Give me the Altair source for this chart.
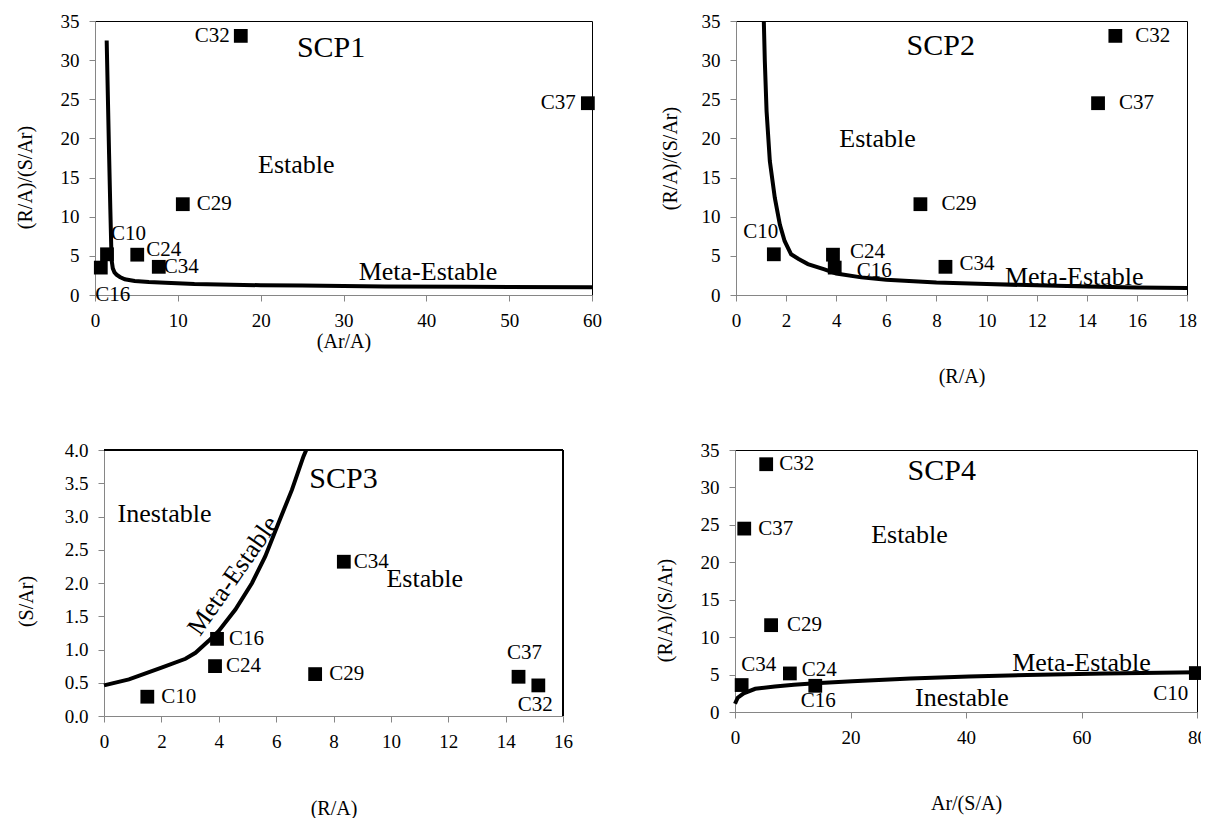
import altair as alt
import pandas as pd

FONT = "Liberation Serif"

# ---------------- data ----------------
samples = ["C10", "C16", "C24", "C29", "C32", "C34", "C37"]
ratio = [5.2, 3.5, 5.15, 11.6, 33.1, 3.6, 24.5]      # (R/A)/(S/Ar)
ar_a = [1.45, 0.7, 5.1, 10.6, 17.6, 7.7, 59.5]        # (Ar/A)
r_a = [1.51, 3.94, 3.87, 7.36, 15.14, 8.36, 14.45]    # (R/A)
s_ar = [0.29, 1.16, 0.75, 0.63, 0.46, 2.32, 0.59]     # (S/Ar)
ar_sa = [79.8, 13.9, 9.5, 6.25, 5.4, 1.15, 1.6]       # Ar/(S/A)

# boundary curves (Meta-Estable lines)
c1_x = [1.41, 1.55, 1.7, 1.85, 2.0, 2.15, 2.35, 2.6, 3.0, 3.6, 4.8, 6.5, 8.5, 12, 20, 25, 35, 45, 60]
c1_y = [32.5, 25.5, 18.0, 11.0, 4.5, 3.4, 2.9, 2.6, 2.3, 2.0, 1.8, 1.65, 1.55, 1.4, 1.25, 1.2, 1.1, 1.05, 1.0]
c2_x = [1.11, 1.15, 1.22, 1.35, 1.55, 1.75, 1.94, 2.2, 2.5, 2.87, 3.5, 4.0, 5.0, 6.0, 8.0, 10.0, 12.0, 14.0, 16.0, 18.0]
c2_y = [35, 29.9, 23.5, 17.1, 12.4, 9.0, 6.9, 5.2, 4.6, 3.95, 3.3, 2.75, 2.25, 1.95, 1.6, 1.4, 1.23, 1.1, 0.97, 0.9]
c3_x = [0, 0.87, 2.03, 2.84, 3.19, 3.65, 4.0, 4.58, 5.16, 5.62, 6.08, 6.55, 6.95, 7.05]
c3_y = [0.46, 0.55, 0.73, 0.86, 0.95, 1.13, 1.28, 1.6, 2.0, 2.4, 2.9, 3.4, 3.9, 4.0]
c4_x = [0, 0.47, 1.5, 3.5, 6.9, 10.2, 13.9, 20.3, 30.4, 40.5, 50.6, 64, 80]
c4_y = [1.1, 1.9, 2.5, 3.1, 3.4, 3.65, 3.83, 4.1, 4.46, 4.73, 4.95, 5.13, 5.3]

# annotations (text, x, y) per panel
a1_text = ["SCP1", "Estable", "Meta-Estable"]
a1_x = [28.5, 24.3, 40.2]
a1_y = [31.6, 16.6, 2.9]
a2_text = ["SCP2", "Estable", "Meta-Estable"]
a2_x = [8.17, 5.65, 13.5]
a2_y = [31.8, 19.9, 2.3]
a3_text = ["SCP3", "Inestable", "Estable", "Meta-Estable"]
a3_x = [8.35, 2.11, 11.18, 4.5]
a3_y = [3.56, 3.04, 2.06, 2.11]
a4_text = ["SCP4", "Estable", "Meta-Estable", "Inestable"]
a4_x = [35.8, 30.2, 60.0, 39.3]
a4_y = [32.2, 23.6, 6.6, 1.9]

# ---------------- styles ----------------
# point-label placement: sample -> (align, dx, dy)
lab1 = {"C32": ("right", -11, 0), "C37": ("right", -12, 0), "C29": ("left", 14, 0),
        "C10": ("left", 4, -20), "C24": ("left", 9, -5), "C34": ("left", 5, 0), "C16": ("center", 12, 27)}
lab2 = {"C32": ("left", 20, 0), "C37": ("left", 21, 0), "C29": ("left", 21, 0),
        "C10": ("center", -13, -22), "C24": ("left", 17, -3), "C16": ("left", 22, 3), "C34": ("left", 14, -3)}
lab3 = {"C10": ("left", 14, 0), "C24": ("left", 11, 0), "C16": ("left", 12, 0), "C29": ("left", 14, 0),
        "C34": ("left", 10, 0), "C37": ("center", 6, -24), "C32": ("center", -3, 20)}
lab4 = {"C32": ("left", 13, 0), "C37": ("left", 14, 0), "C29": ("left", 16, 0),
        "C34": ("center", 17, -20), "C24": ("left", 12, -3), "C16": ("center", 3, 15), "C10": ("center", -25, 21)}
# annotation style: (fontSize, angle)
ann_style = {"SCP1": (30, 0), "SCP2": (30, 0), "SCP3": (30, 0), "SCP4": (30, 0),
             "Estable": (26, 0), "Inestable": (26, 0), "Meta-Estable": (26, 0)}

AXIS_STYLE = dict(grid=False, domainColor="#868686", tickColor="#868686", tickSize=6, labelPadding=10,
                  labelFont=FONT, labelFontSize=19, labelColor="black", titleFont=FONT, titleFontSize=20,
                  titleFontWeight="normal", titleColor="black", labelOverlap=False, labelFlush=False)


def panel(xv, yv, cx, cy, at, ax_, ay_, labs, xdom, ydom, xvals, yvals, xtitle, ytitle,
          w, h, yfmt, xtp, ytp, ytitle_y=None, rotated_meta=False, inset=0):
    pts = pd.DataFrame({"x": xv, "y": yv, "s": samples})
    curve = pd.DataFrame({"x": cx, "y": cy, "o": list(range(len(cx)))})
    if inset:
        xs = alt.Scale(domain=xdom, nice=False, zero=False, range=[inset, w + inset])
    else:
        xs = alt.Scale(domain=xdom, nice=False, zero=False)
    ys = alt.Scale(domain=ydom, nice=False, zero=False)
    xaxis = alt.Axis(values=xvals, title=xtitle, titlePadding=xtp, format="d", **AXIS_STYLE)
    yargs = dict(values=yvals, title=ytitle, titlePadding=ytp, format=yfmt, **AXIS_STYLE)
    if ytitle_y is not None:
        yargs["titleY"] = ytitle_y
    if inset:
        yargs["offset"] = -inset
    yaxis = alt.Axis(**yargs)
    X = alt.X("x:Q", scale=xs, axis=xaxis)
    Y = alt.Y("y:Q", scale=ys, axis=yaxis)
    layers = []
    layers.append(alt.Chart(curve).mark_line(color="black", strokeWidth=4).encode(
        x=X, y=Y, order="o:Q"))
    if inset:
        # top and right frame lines, drawn at the domain limits
        layers.append(alt.Chart(curve).mark_rule(color="black", strokeWidth=1).encode(
            x=alt.XDatum(xdom[0], type="quantitative", scale=xs, axis=xaxis),
            x2=alt.X2Datum(xdom[1]),
            y=alt.YDatum(ydom[1], type="quantitative", scale=ys, axis=yaxis)))
        layers.append(alt.Chart(curve).mark_rule(color="black", strokeWidth=1).encode(
            x=alt.XDatum(xdom[1], type="quantitative", scale=xs, axis=xaxis),
            y=alt.YDatum(ydom[0], type="quantitative", scale=ys, axis=yaxis),
            y2=alt.Y2Datum(ydom[1])))
    layers.append(alt.Chart(pts).mark_square(size=190, color="black", opacity=1).encode(x=X, y=Y))
    for s, (align, dx, dy) in labs.items():
        layers.append(alt.Chart(pts).transform_filter(alt.datum.s == s).mark_text(
            align=align, baseline="middle", dx=dx, dy=dy, font=FONT, fontSize=21, color="black"
        ).encode(x=X, y=Y, text="s:N"))
    ann = pd.DataFrame({"t": at, "x": ax_, "y": ay_})
    for t in at:
        fs, ang = ann_style[t]
        if rotated_meta and t == "Meta-Estable":
            ang = 305
        layers.append(alt.Chart(ann).transform_filter(alt.datum.t == t).mark_text(
            align="center", baseline="middle", font=FONT, fontSize=fs, angle=ang, color="black"
        ).encode(x=X, y=Y, text="t:N"))
    ch = alt.layer(*layers).properties(width=w + inset, height=h)
    if inset:
        ch = ch.properties(view=alt.ViewBackground(stroke="transparent"))
    return ch


p1 = panel(ar_a, ratio, c1_x, c1_y, a1_text, a1_x, a1_y, lab1, [0, 60], [0, 35],
           [0, 10, 20, 30, 40, 50, 60], [0, 5, 10, 15, 20, 25, 30, 35],
           "(Ar/A)", "(R/A)/(S/Ar)", 497, 274, "d", 1, 24.75, ytitle_y=156)
p2 = panel(r_a, ratio, c2_x, c2_y, a2_text, a2_x, a2_y, lab2, [0, 18], [0, 35],
           [0, 2, 4, 6, 8, 10, 12, 14, 16, 18], [0, 5, 10, 15, 20, 25, 30, 35],
           "(R/A)", "(R/A)/(S/Ar)", 451, 274, "d", 36, 20.25)
p3 = panel(r_a, s_ar, c3_x, c3_y, a3_text, a3_x, a3_y, lab3, [0, 16], [0, 4],
           [0, 2, 4, 6, 8, 10, 12, 14, 16], [0, 0.5, 1, 1.5, 2, 2.5, 3, 3.5, 4],
           "(R/A)", "(S/Ar)", 459, 266, ".1f", 47, 28, ytitle_y=151, rotated_meta=True, inset=9)
p4 = panel(ar_sa, ratio, c4_x, c4_y, a4_text, a4_x, a4_y, lab4, [0, 80], [0, 35],
           [0, 20, 40, 60, 80], [0, 5, 10, 15, 20, 25, 30, 35],
           "Ar/(S/A)", "(R/A)/(S/Ar)", 462, 262, "d", 46, 24.25, ytitle_y=160)

row1 = alt.hconcat(p1, p2, spacing=58)
row2 = alt.hconcat(p3, p4, spacing=82)

chart = alt.concat(row1, row2, columns=1, spacing=53, align="none").properties(
    padding={"left": 6, "top": 3, "right": -6, "bottom": 0}
).configure(background="white").configure_view(stroke="black", strokeWidth=1).configure_axis(
    grid=False, domainColor="#868686", tickColor="#868686", tickSize=6, labelPadding=10,
    labelFont=FONT, labelFontSize=19, labelColor="black", titleFont=FONT, titleFontSize=20,
    titleFontWeight="normal", titleColor="black", labelOverlap=False
)

chart.save("out.html", embed_options={"renderer": "svg", "actions": False})
